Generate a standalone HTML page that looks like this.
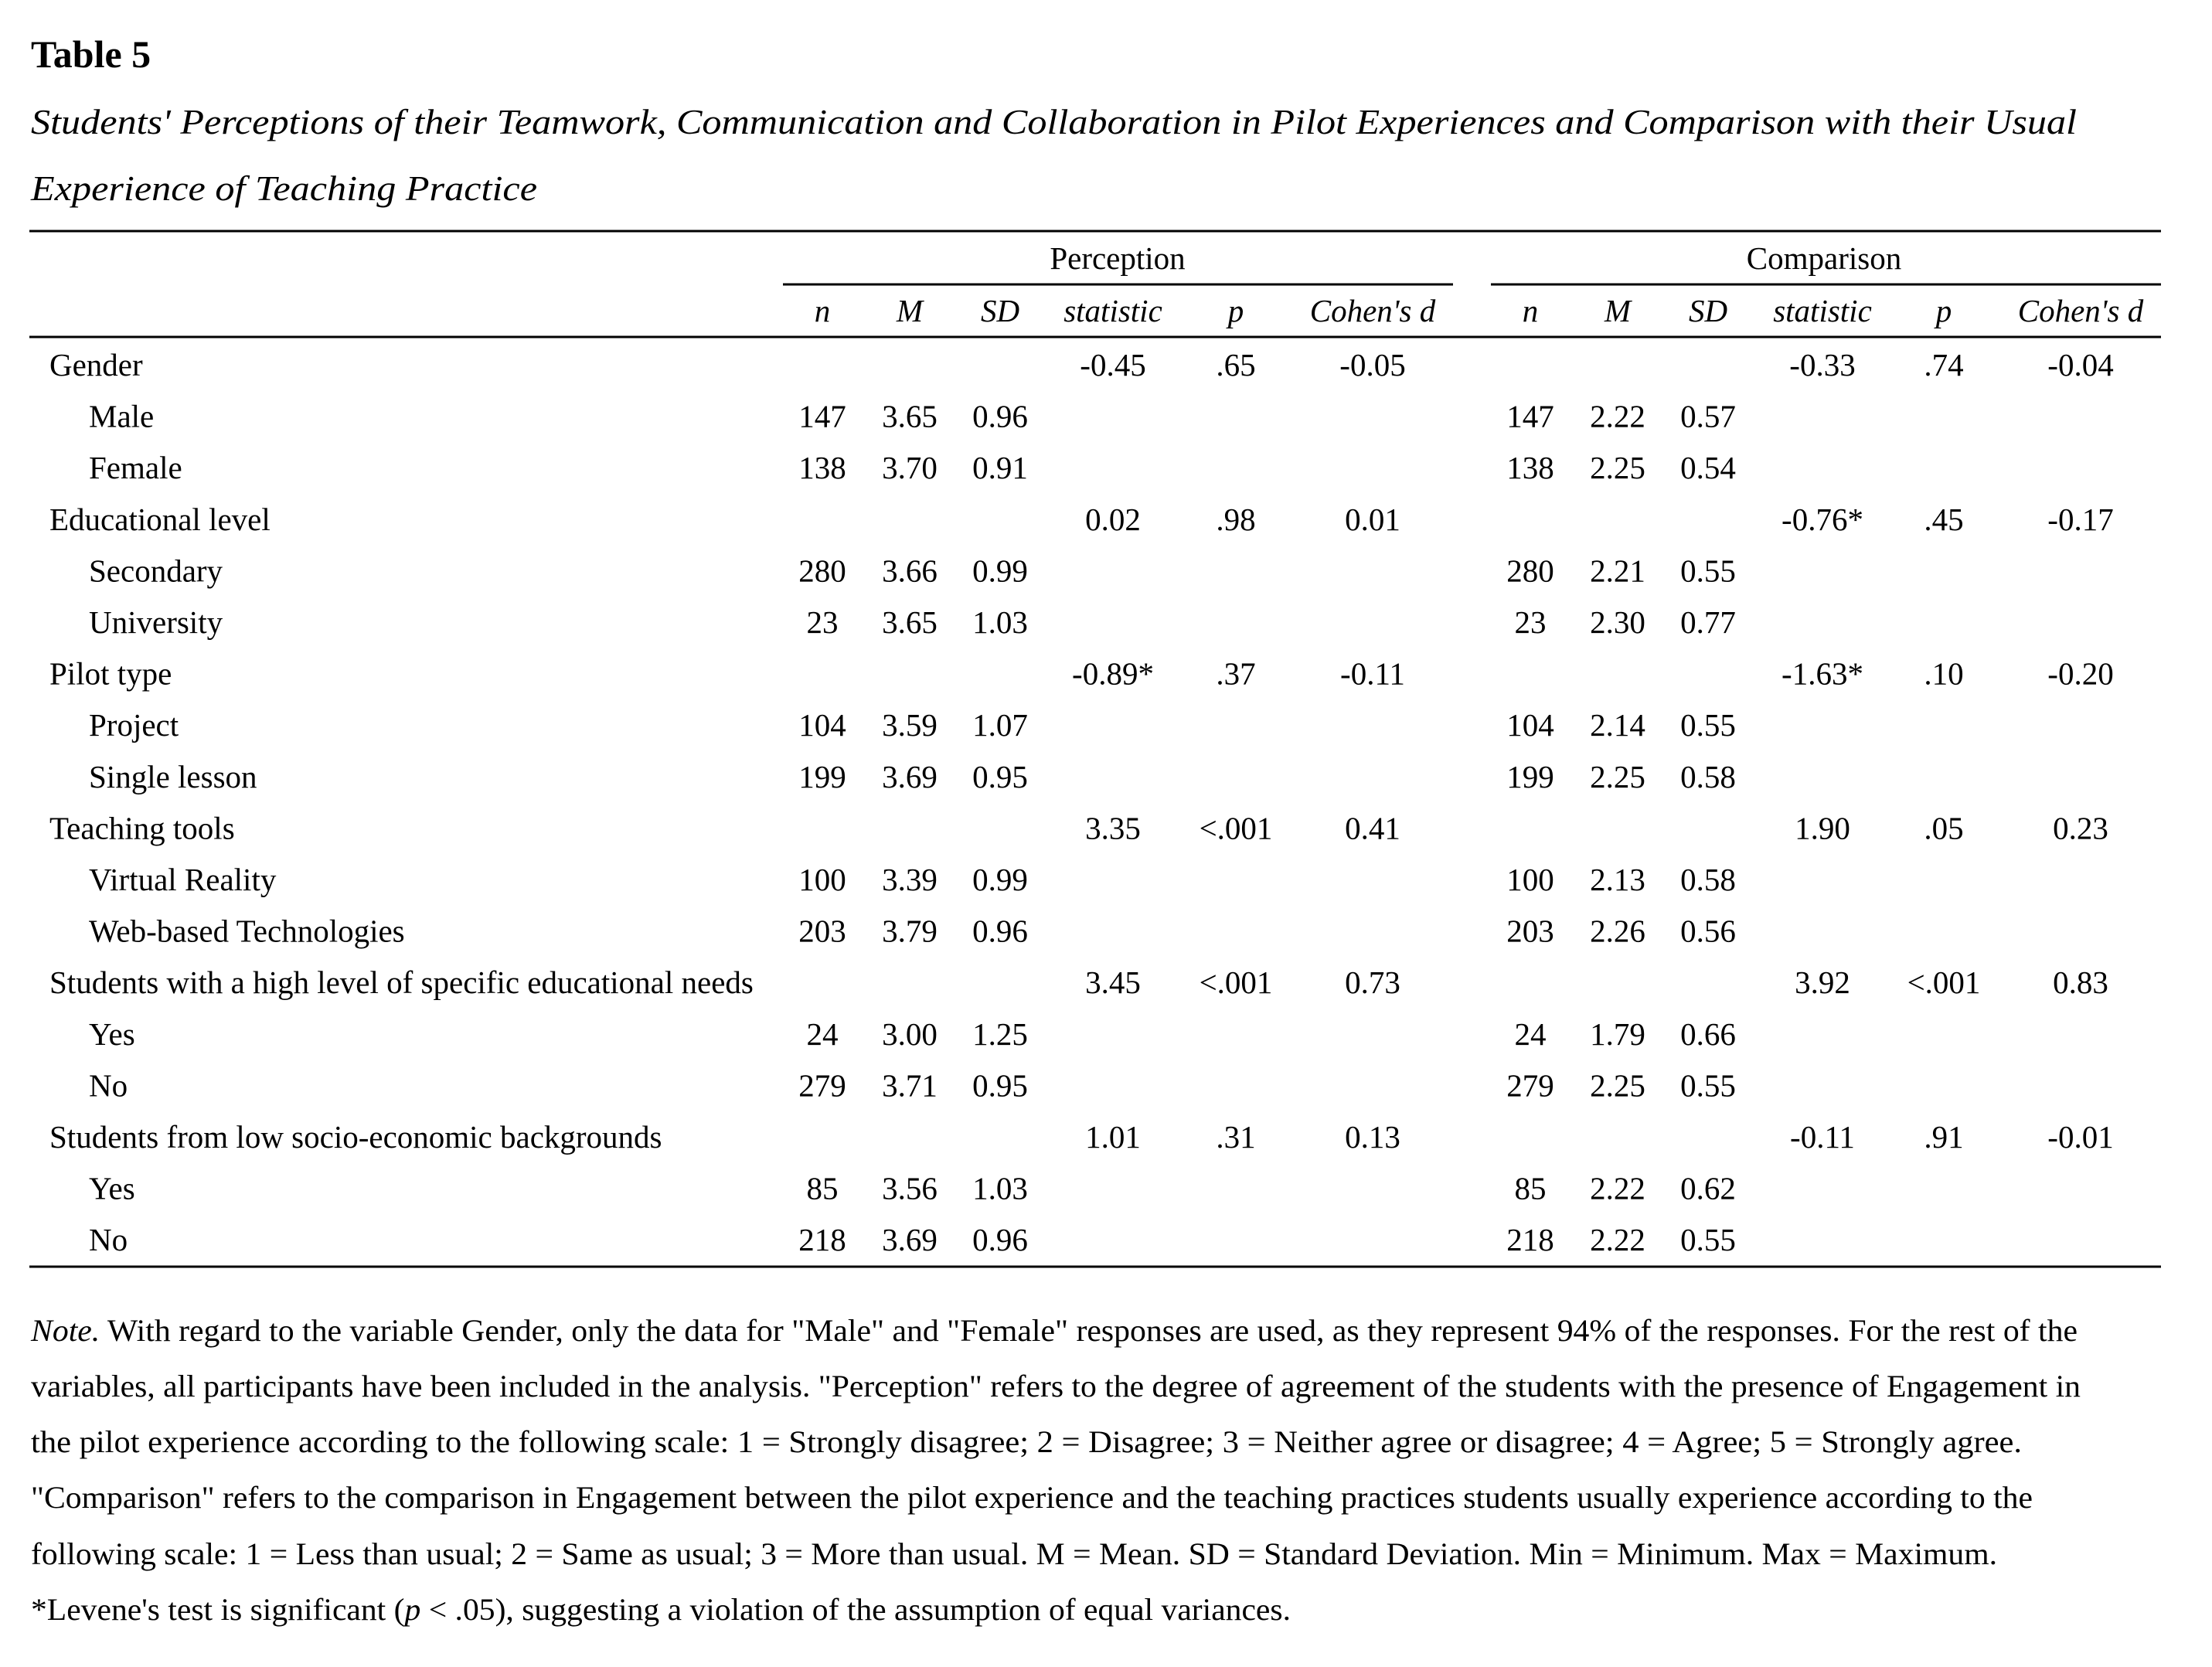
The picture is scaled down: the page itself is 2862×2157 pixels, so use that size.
<!DOCTYPE html>
<html><head><meta charset="utf-8"><style>
html,body{margin:0;padding:0;background:#fff;}
svg{display:block;}
text{font-family:"Liberation Serif","Times New Roman",serif;fill:#000;}
.c{text-anchor:middle;}
.i{font-style:italic;}
</style></head><body>
<svg width="2862" height="2157" viewBox="0 0 2862 2157" xmlns="http://www.w3.org/2000/svg">
<text x="40" y="87" font-size="50" font-weight="bold">Table 5</text>
<text x="40" y="173" font-size="46" class="i" textLength="2647" lengthAdjust="spacingAndGlyphs">Students' Perceptions of their Teamwork, Communication and Collaboration in Pilot Experiences and Comparison with their Usual</text>
<text x="40" y="259" font-size="46" class="i" textLength="655" lengthAdjust="spacingAndGlyphs">Experience of Teaching Practice</text>
<g stroke="#000" stroke-width="3">
<line x1="38" y1="299" x2="2796" y2="299"/>
<line x1="1013" y1="368" x2="1880" y2="368"/>
<line x1="1929" y1="368" x2="2796" y2="368"/>
<line x1="38" y1="436" x2="2796" y2="436"/>
<line x1="38" y1="1639" x2="2796" y2="1639"/>
</g>
<g font-size="41">
<text x="1446" y="348" class="c">Perception</text>
<text x="2360" y="348" class="c">Comparison</text>
<g class="i">
<text x="1064" y="416" class="c">n</text><text x="1177" y="416" class="c">M</text><text x="1294" y="416" class="c">SD</text><text x="1440" y="416" class="c">statistic</text><text x="1599" y="416" class="c">p</text><text x="1776" y="416" class="c">Cohen's d</text>
<text x="1980" y="416" class="c">n</text><text x="2093" y="416" class="c">M</text><text x="2210" y="416" class="c">SD</text><text x="2358" y="416" class="c">statistic</text><text x="2515" y="416" class="c">p</text><text x="2692" y="416" class="c">Cohen's d</text>
</g>
</g>
<g font-size="41" id="rows"></g>
<g font-size="40">
<text x="40" y="1735" textLength="2648" lengthAdjust="spacingAndGlyphs"><tspan class="i">Note.</tspan> With regard to the variable Gender, only the data for "Male" and "Female" responses are used, as they represent 94% of the responses. For the rest of the</text>
<text x="40" y="1807" textLength="2652" lengthAdjust="spacingAndGlyphs">variables, all participants have been included in the analysis. "Perception" refers to the degree of agreement of the students with the presence of Engagement in</text>
<text x="40" y="1879" textLength="2576" lengthAdjust="spacingAndGlyphs">the pilot experience according to the following scale: 1 = Strongly disagree; 2 = Disagree; 3 = Neither agree or disagree; 4 = Agree; 5 = Strongly agree.</text>
<text x="40" y="1951" textLength="2590" lengthAdjust="spacingAndGlyphs">"Comparison" refers to the comparison in Engagement between the pilot experience and the teaching practices students usually experience according to the</text>
<text x="40" y="2024" textLength="2544" lengthAdjust="spacingAndGlyphs">following scale: 1 = Less than usual; 2 = Same as usual; 3 = More than usual. M = Mean. SD = Standard Deviation. Min = Minimum. Max = Maximum.</text>
<text x="40" y="2096" textLength="1630" lengthAdjust="spacingAndGlyphs">*Levene's test is significant (<tspan class="i">p</tspan> &lt; .05), suggesting a violation of the assumption of equal variances.</text>
</g>
<script>
var rows=[
["Gender",0,"","","","-0.45",".65","-0.05","","","","-0.33",".74","-0.04"],
["Male",1,"147","3.65","0.96","","","","147","2.22","0.57","","",""],
["Female",1,"138","3.70","0.91","","","","138","2.25","0.54","","",""],
["Educational level",0,"","","","0.02",".98","0.01","","","","-0.76*",".45","-0.17"],
["Secondary",1,"280","3.66","0.99","","","","280","2.21","0.55","","",""],
["University",1,"23","3.65","1.03","","","","23","2.30","0.77","","",""],
["Pilot type",0,"","","","-0.89*",".37","-0.11","","","","-1.63*",".10","-0.20"],
["Project",1,"104","3.59","1.07","","","","104","2.14","0.55","","",""],
["Single lesson",1,"199","3.69","0.95","","","","199","2.25","0.58","","",""],
["Teaching tools",0,"","","","3.35","<.001","0.41","","","","1.90",".05","0.23"],
["Virtual Reality",1,"100","3.39","0.99","","","","100","2.13","0.58","","",""],
["Web-based Technologies",1,"203","3.79","0.96","","","","203","2.26","0.56","","",""],
["Students with a high level of specific educational needs",0,"","","","3.45","<.001","0.73","","","","3.92","<.001","0.83"],
["Yes",1,"24","3.00","1.25","","","","24","1.79","0.66","","",""],
["No",1,"279","3.71","0.95","","","","279","2.25","0.55","","",""],
["Students from low socio-economic backgrounds",0,"","","","1.01",".31","0.13","","","","-0.11",".91","-0.01"],
["Yes",1,"85","3.56","1.03","","","","85","2.22","0.62","","",""],
["No",1,"218","3.69","0.96","","","","218","2.22","0.55","","",""]];
var xs=[1064,1177,1294,1440,1599,1776,1980,2093,2210,2358,2515,2692];
var g=document.getElementById("rows"),ns="http://www.w3.org/2000/svg";
function t(x,y,s,c){var e=document.createElementNS(ns,"text");e.setAttribute("x",x);e.setAttribute("y",y);if(c)e.setAttribute("class","c");e.textContent=s;g.appendChild(e);}
rows.forEach(function(r,i){var y=486+66.6*i;t(r[1]?115:64,y,r[0]);for(var k=0;k<12;k++)if(r[k+2])t(xs[k],y,r[k+2],1);});
</script>
</svg>
</body></html>
